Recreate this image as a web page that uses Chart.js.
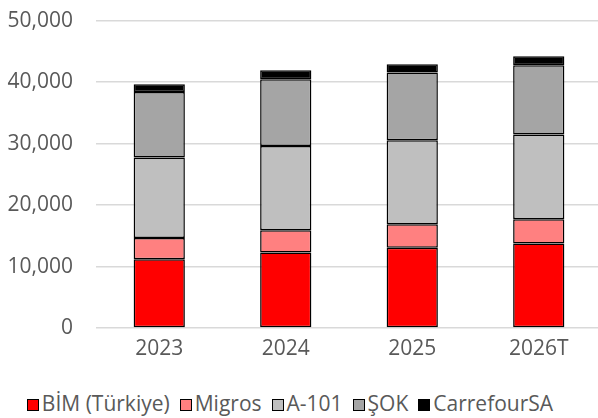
<!DOCTYPE html>
<html><head><meta charset="utf-8">
<script src="https://cdn.jsdelivr.net/npm/chart.js@4"></script>
<style>
html,body{margin:0;padding:0;background:#fff;overflow:hidden;width:598px;height:418px;}
#wrap{position:absolute;left:0;top:-15px;width:602px;height:395px;}
#legend{position:absolute;left:-9px;top:389px;width:598px;text-align:center;font-family:"Open Sans";font-size:21px;color:#595959;white-space:nowrap;}
#legend span.item{display:inline-block;margin:0 5px;}
#legend span.box{display:inline-block;width:10px;height:10px;border:1.5px solid #000;margin-right:3px;vertical-align:0px;}
</style></head>
<body>
<div id="wrap"><canvas id="c" width="602" height="395"></canvas></div>
<div id="legend"></div>
<script>
const categories = ["2023","2024","2025","2026T"];
const seriesNames = ["BİM (Türkiye)","Migros","A-101","ŞOK","CarrefourSA"];
const bim = [11200, 12270, 13040, 13730];
const migros = [3450, 3630, 3840, 3960];
const a101 = [13100, 13690, 13640, 13800];
const sok = [10650, 10880, 11040, 11250];
const carrefour = [1250, 1460, 1340, 1460];
const yTicks = [0, 10000, 20000, 30000, 40000, 50000];
const colors = ["#ff0000","#ff8080","#bfbfbf","#a5a5a5","#000000"];
const values = [bim, migros, a101, sok, carrefour];

const datasets = values.map((v,i)=>({
  label: seriesNames[i], data: v, backgroundColor: colors[i],
  borderColor: "#000", borderWidth: 1.5, borderSkipped: false,
  categoryPercentage: 1.0, barPercentage: 0.405
}));

new Chart(document.getElementById('c'), {
  type: 'bar',
  data: { labels: categories, datasets },
  options: {
    responsive: false, animation: false,
    layout: { padding: { top: 8, left: 0, right: 0, bottom: 0 } },
    plugins: { legend: { display: false }, tooltip: { enabled: false } },
    scales: {
      x: { stacked: true,
        grid: { display: false, drawTicks: false },
        border: { display: false },
        ticks: { color: "#595959", font: { family: "Open Sans", size: 21 }, padding: 8 },
        afterFit: s => { s.height = 52; }
      },
      y: { stacked: true, min: 0, max: 50000,
        afterBuildTicks: s => { s.ticks = yTicks.map(v=>({value:v})); },
        grid: { color: "#d9d9d9", lineWidth: 1.5, drawTicks: false },
        border: { display: false },
        ticks: { color: "#595959", font: { family: "Open Sans", size: 21 }, padding: 23,
          callback: v => v.toLocaleString('en-US') },
        afterFit: s => { s.width = 96; }
      }
    }
  }
});

const lg = document.getElementById('legend');
seriesNames.forEach((n,i)=>{
  const it = document.createElement('span'); it.className='item';
  const b = document.createElement('span'); b.className='box'; b.style.background = colors[i];
  it.appendChild(b); it.appendChild(document.createTextNode(n)); lg.appendChild(it);
});
</script>
</body></html>
